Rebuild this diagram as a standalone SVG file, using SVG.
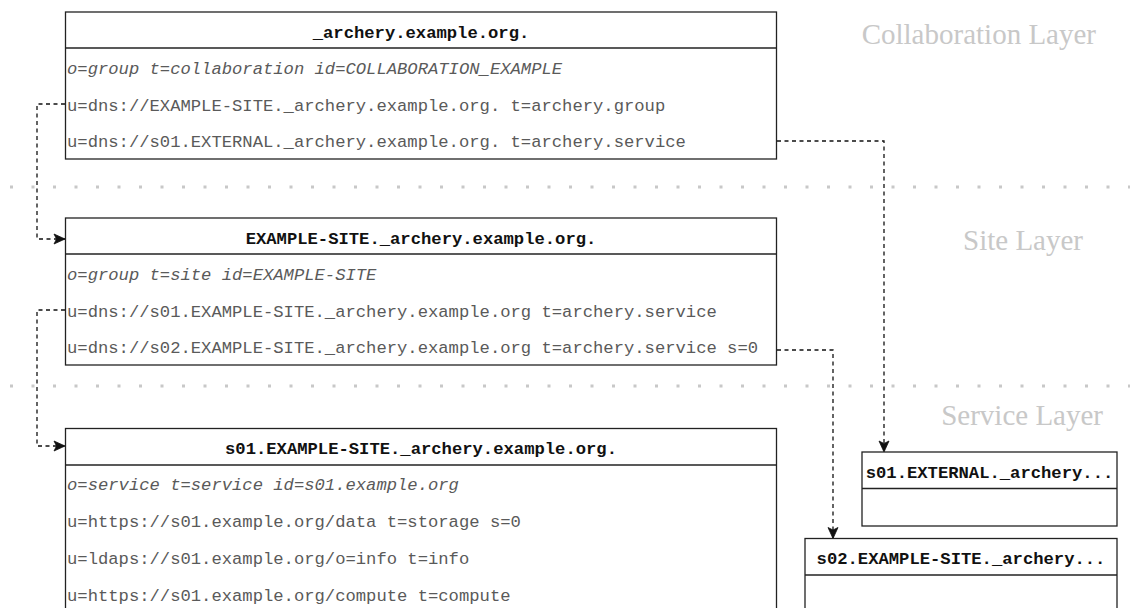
<svg xmlns="http://www.w3.org/2000/svg" width="1137" height="608" viewBox="0 0 1137 608">
  <style>
    .box { fill: #fff; stroke: #222; stroke-width: 1.3; }
    .div { stroke: #222; stroke-width: 1.3; }
    .hd { font-family: "Liberation Mono", "Courier New", monospace; font-size: 17.2px; font-weight: bold; fill: #111; text-anchor: middle; }
    .row { font-family: "Liberation Mono", "Courier New", monospace; font-size: 17.2px; fill: #5a5a5a; }
    .it { font-style: italic; }
    .layer { font-family: "Liberation Serif", "Times New Roman", serif; font-size: 29px; fill: #c8c8c8; }
    .sep { stroke: #c8c8c8; stroke-width: 3; stroke-dasharray: 3 18.5; fill: none; }
    .edge { fill: none; stroke: #111; stroke-width: 1.3; stroke-dasharray: 4 3.5; marker-end: url(#arrow); }
  </style>
  <defs>
    <marker id="arrow" markerUnits="userSpaceOnUse" markerWidth="14" markerHeight="14" viewBox="0 0 14 14" refX="12" refY="7" orient="auto">
      <path d="M1,2 L12,7 L1,12 L3.5,7 Z" fill="#111" stroke="#111" stroke-width="0.8"/>
    </marker>
  </defs>

  <!-- layer separators and titles -->
  <g id="layers">
    <line class="sep" x1="10" y1="187" x2="1130" y2="187"/>
    <line class="sep" x1="10" y1="386" x2="1130" y2="386"/>
    <text class="layer" x="1096" y="44" text-anchor="end">Collaboration Layer</text>
    <text class="layer" x="1083" y="250" text-anchor="end">Site Layer</text>
    <text class="layer" x="1103" y="425" text-anchor="end">Service Layer</text>
  </g>

  <!-- connectors -->
  <g id="connectors">
    <path class="edge" d="M65,104 H37 V239 H65"/>
    <path class="edge" d="M65,310 H37 V446 H65"/>
    <path class="edge" d="M777,141 H884 V452"/>
    <path class="edge" d="M777,350 H833 V538.5"/>
  </g>

  <!-- collaboration record -->
  <g id="collaboration">
    <rect class="box" x="65.5" y="12" width="711" height="147"/>
    <line class="div" x1="65.5" y1="48" x2="776.5" y2="48"/>
    <text class="hd" x="421" y="37.5">_archery.example.org.</text>
    <text class="row it" x="67" y="74">o=group t=collaboration id=COLLABORATION_EXAMPLE</text>
    <text class="row" x="67" y="110.5">u=dns://EXAMPLE-SITE._archery.example.org. t=archery.group</text>
    <text class="row" x="67" y="147">u=dns://s01.EXTERNAL._archery.example.org. t=archery.service</text>
  </g>

  <!-- site record -->
  <g id="site">
    <rect class="box" x="65.5" y="218" width="711" height="147"/>
    <line class="div" x1="65.5" y1="254" x2="776.5" y2="254"/>
    <text class="hd" x="421" y="244">EXAMPLE-SITE._archery.example.org.</text>
    <text class="row it" x="67" y="280">o=group t=site id=EXAMPLE-SITE</text>
    <text class="row" x="67" y="316.5">u=dns://s01.EXAMPLE-SITE._archery.example.org t=archery.service</text>
    <text class="row" x="67" y="353">u=dns://s02.EXAMPLE-SITE._archery.example.org t=archery.service s=0</text>
  </g>

  <!-- service s01 record -->
  <g id="service-s01">
    <rect class="box" x="65.5" y="428.5" width="711" height="200"/>
    <line class="div" x1="65.5" y1="465" x2="776.5" y2="465"/>
    <text class="hd" x="421" y="453.5">s01.EXAMPLE-SITE._archery.example.org.</text>
    <text class="row it" x="67" y="490">o=service t=service id=s01.example.org</text>
    <text class="row" x="67" y="527">u=https://s01.example.org/data t=storage s=0</text>
    <text class="row" x="67" y="564">u=ldaps://s01.example.org/o=info t=info</text>
    <text class="row" x="67" y="600.5">u=https://s01.example.org/compute t=compute</text>
  </g>

  <!-- external service record -->
  <g id="service-external">
    <rect class="box" x="862" y="452" width="255" height="74"/>
    <line class="div" x1="862" y1="488.5" x2="1117" y2="488.5"/>
    <text class="hd" x="989.5" y="477.5">s01.EXTERNAL._archery...</text>
  </g>

  <!-- service s02 record -->
  <g id="service-s02">
    <rect class="box" x="805" y="538.5" width="312" height="100"/>
    <line class="div" x1="805" y1="575" x2="1117" y2="575"/>
    <text class="hd" x="961" y="564">s02.EXAMPLE-SITE._archery...</text>
  </g>
</svg>
